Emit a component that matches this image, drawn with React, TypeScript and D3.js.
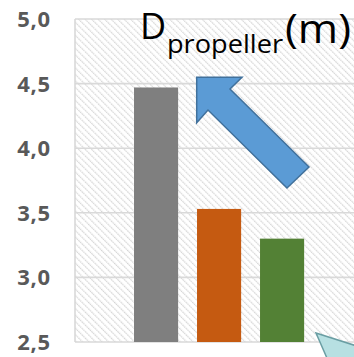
import React from "react";
import * as d3 from "d3";

const categories = ["A", "B", "C"];
const values = [4.47, 3.53, 3.3];
const barColors = ["#7F7F7F", "#C55A11", "#538135"];
const yTicks = [2.5, 3.0, 3.5, 4.0, 4.5, 5.0];
const titleMain = "D";
const titleSub = "propeller";
const titleUnit = "(m)";

const W = 354;
const H = 357;

export default function App() {
  const x = d3
    .scaleBand<string>()
    .domain(categories)
    .range([75, 354])
    .paddingInner(0.3)
    .paddingOuter(0.864)
    .align(0.542);
  const y = d3.scaleLinear().domain([2.5, 5.0]).range([342, 19]);
  const fmt = (v: number) => d3.format(".1f")(v).replace(".", ",");

  const arrow = [
    [196.7, 77.3],
    [242, 77.3],
    [230, 89],
    [309, 167],
    [287, 188],
    [208, 110],
    [196.7, 122.7],
  ];
  const callout = [
    [316, 333],
    [360, 347],
    [360, 365],
    [330, 365],
  ];
  const line = d3.line();

  return (
    <svg
      width={W}
      height={H}
      style={{ position: "absolute", left: 0, top: 0, background: "#fff" }}
    >
      <defs>
        <pattern
          id="hatch"
          patternUnits="userSpaceOnUse"
          width={4.6}
          height={4.6}
          patternTransform="rotate(-45)"
        >
          <rect width={4.6} height={4.6} fill="#fff" />
          <line x1={0} y1={0} x2={0} y2={4.6} stroke="#d4d4d4" strokeWidth={2.4} strokeDasharray="1.6 0.7" />
        </pattern>
      </defs>
      <rect x={75} y={y(5.0)} width={W - 75} height={y(2.5) - y(5.0)} fill="url(#hatch)" />
      {yTicks.map((t) => (
        <line key={t} x1={75} x2={W} y1={y(t)} y2={y(t)} stroke="#d9d9d9" strokeWidth={1.6} />
      ))}
      <line x1={75} x2={75} y1={y(5.0)} y2={y(2.5)} stroke="#d9d9d9" strokeWidth={1.6} />
      {yTicks.map((t) => (
        <text
          key={"l" + t}
          x={51}
          y={y(t)}
          dy="0.36em"
          textAnchor="end"
          fontFamily="Open Sans"
          fontWeight="bold"
          fontSize={22}
          letterSpacing={0.8}
          fill="#595959"
        >
          {fmt(t)}
        </text>
      ))}
      {categories.map((c, i) => (
        <rect
          key={c}
          x={x(c)}
          y={y(values[i])}
          width={x.bandwidth()}
          height={y(2.5) - y(values[i])}
          fill={barColors[i]}
        />
      ))}
      <text fontFamily="Open Sans" fill="#000">
        <tspan x={140} y={39} fontSize={36}>{titleMain}</tspan>
        <tspan x={167} y={53} fontSize={26} textLength={116} lengthAdjust="spacingAndGlyphs">{titleSub}</tspan>
        <tspan x={285} y={43} fontSize={40} textLength={66} lengthAdjust="spacingAndGlyphs">{titleUnit}</tspan>
      </text>
      <path
        d={line(arrow as [number, number][]) + "Z"}
        fill="#5B9BD5"
        stroke="#41719C"
        strokeWidth={1.5}
        strokeLinejoin="miter"
      />
      <path
        d={line(callout as [number, number][]) + "Z"}
        fill="#B7E0E2"
        stroke="#6A9EA3"
        strokeWidth={1.5}
      />
    </svg>
  );
}
